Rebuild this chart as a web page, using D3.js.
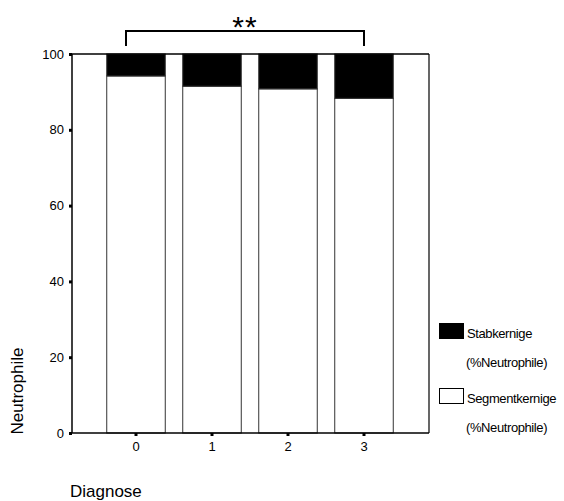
<!DOCTYPE html>
<html><head><meta charset="utf-8">
<script src="https://cdn.jsdelivr.net/npm/d3@7"></script>
<style>body{margin:0;background:#fff}svg{display:block}text{font-family:Arial,"Liberation Sans",sans-serif}</style>
</head><body><svg id="c" width="564" height="501"></svg>
<script>
const categories = ["0","1","2","3"];
const segmentkernige = [94.2, 91.5, 90.8, 88.3];
const stabkernige = [5.8, 8.5, 9.2, 11.7];
const yTicks = [0,20,40,60,80,100];
const seriesNames = ["Segmentkernige","Stabkernige"];
const legendLabels = [["Stabkernige","(%Neutrophile)"],["Segmentkernige","(%Neutrophile)"]];

const svg = d3.select("#c");
const plotL = 72, plotR = 429, plotT = 54, plotB = 433;
const x = d3.scaleBand().domain(categories).range([98, 402]).paddingInner(0.23).paddingOuter(0.115);
const y = d3.scaleLinear().domain([0,100]).range([plotB, plotT]);

const rows = categories.map((c,i)=>({cat:c, Segmentkernige:segmentkernige[i], Stabkernige:stabkernige[i]}));
const stacked = d3.stack().keys(seriesNames)(rows);
const fills = {Segmentkernige:"#fff", Stabkernige:"#000"};

// bars
svg.append("g").selectAll("g").data(stacked).join("g")
  .attr("fill", d=>fills[d.key]).attr("stroke","#333").attr("stroke-width",1)
  .selectAll("rect").data(d=>d).join("rect")
  .attr("x", d=>x(d.data.cat)).attr("width", x.bandwidth())
  .attr("y", d=>y(d[1])).attr("height", d=>y(d[0])-y(d[1]));

// frame
svg.append("line").attr("x1",plotL).attr("x2",plotR).attr("y1",plotT).attr("y2",plotT).attr("stroke","#000").attr("stroke-width",1.5);
svg.append("line").attr("x1",plotR).attr("x2",plotR).attr("y1",plotT).attr("y2",plotB).attr("stroke","#000").attr("stroke-width",1.2);

// y axis
const ya = svg.append("g").attr("transform",`translate(${plotL},0)`)
  .call(d3.axisLeft(y).tickValues(yTicks).tickSize(3).tickPadding(5));
ya.select(".domain").attr("d",`M0,${plotT}V${plotB}`).attr("stroke","#000").attr("stroke-width",1.5);
ya.selectAll(".tick line").attr("stroke","#000").attr("stroke-width",3);
ya.selectAll(".tick text").attr("font-size",13).attr("fill","#000");

// x axis
const xa = svg.append("g").attr("transform",`translate(0,${plotB})`)
  .call(d3.axisBottom(x).tickSize(3).tickPadding(6));
xa.select(".domain").attr("d",`M${plotL-3},0H${plotR}`).attr("stroke","#000").attr("stroke-width",1.5);
xa.selectAll(".tick line").attr("stroke","#000").attr("stroke-width",3);
xa.selectAll(".tick text").attr("font-size",13).attr("fill","#000");
svg.append("rect").attr("x",plotL-3).attr("y",plotB-1).attr("width",3).attr("height",3).attr("fill","#000");

// axis titles
svg.append("text").attr("x",70).attr("y",497).attr("font-size",17).text("Diagnose");
svg.append("text").attr("transform","translate(23,391) rotate(-90)").attr("text-anchor","middle").attr("font-size",17).text("Neutrophile");

// significance bracket
const bx1 = x(categories[0]) + x.bandwidth()/2 - 10, bx2 = x(categories[3]) + x.bandwidth()/2;
svg.append("path").attr("d",`M${bx1},46V31H${bx2}V46`).attr("fill","none").attr("stroke","#000").attr("stroke-width",2);
svg.append("text").attr("x",(bx1+bx2)/2).attr("y",37).attr("text-anchor","middle")
  .attr("font-family","'Liberation Serif','Times New Roman',serif").attr("font-size",30).attr("letter-spacing",1).text("**");

// legend
const lg = svg.append("g");
[["#000",323],["#fff",388]].forEach((s,i)=>{
  lg.append("rect").attr("x",439.5).attr("y",s[1]+0.5).attr("width",24).attr("height",15).attr("fill",s[0]).attr("stroke","#000");
  lg.append("text").attr("x",467).attr("y",s[1]+15).attr("font-size",13).attr("letter-spacing",-0.4).text(legendLabels[i][0]);
  lg.append("text").attr("x",466).attr("y",s[1]+44).attr("font-size",13).attr("letter-spacing",-0.4).text(legendLabels[i][1]);
});
</script></body></html>
